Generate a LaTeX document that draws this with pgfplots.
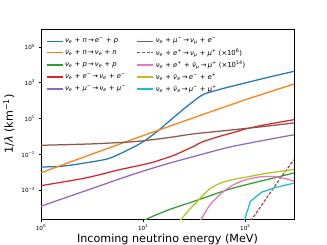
\documentclass[border=0pt]{standalone}
\usepackage{fontspec}
\setmainfont{DejaVu Sans}
\usepackage{pgfplots}
\pgfplotsset{compat=1.18}
\definecolor{c0}{HTML}{1F77B4}
\definecolor{c1}{HTML}{FF7F0E}
\definecolor{c2}{HTML}{2CA02C}
\definecolor{c3}{HTML}{D62728}
\definecolor{c4}{HTML}{9467BD}
\definecolor{c5}{HTML}{8C564B}
\definecolor{c6}{HTML}{E377C2}
\definecolor{c8}{HTML}{BCBD22}
\definecolor{c9}{HTML}{17BECF}
\newcommand{\nuf}[1]{\textit{ν}\textsubscript{\textit{#1}}}
\newcommand{\nub}[1]{\textit{ν̄}\textsubscript{\textit{#1}}}
\newcommand{\up}[1]{\textsuperscript{#1}}
\newcommand{\ra}{\,→\,}
\begin{document}
\begin{tikzpicture}
\useasboundingbox (-41bp,-26bp) rectangle (286bp,219bp);
\begin{axis}[
  at={(0,0)}, anchor=south west,
  scale only axis, width=253bp, height=190bp,
  xmode=log, ymode=log,
  xmin=1, xmax=300, ymin=2.5e-5, ymax=1e6,
  axis line style={black, line width=0.6bp},
  tick style={black, line width=0.6bp},
  tick align=outside, major tick length=2.5bp, minor tick length=1.4bp,
  xtick pos=left, ytick pos=left,
  xtick={1,10,100},
  xticklabels={10\up{0},10\up{1},10\up{2}},
  minor xtick={2,3,4,5,6,7,8,9,20,30,40,50,60,70,80,90,200,300},
  ytick={1e-3,1e-1,1e1,1e3,1e5},
  yticklabels={10\up{−3},10\up{−1},10\up{1},10\up{3},10\up{5}},
  minor ytick={},
  ticklabel style={font=\fontsize{5.7}{6.5}\selectfont},
  xlabel={Incoming neutrino energy (MeV)},
  ylabel={1/\textit{λ} (km\up{−1})},
  label style={font=\fontsize{11.2}{13}\selectfont},
  xlabel style={at={(axis description cs:0.5,-0.1226)}, anchor=base},
  ylabel style={at={(axis description cs:-0.1107,0.5)}, anchor=base},
  legend columns=2,
  legend cell align=left,
  legend image code/.code={\draw[#1] (0bp,0bp) -- (15.7bp,0bp);},
  legend style={at={(axis description cs:0,1)}, anchor=north west,
    xshift=2bp, yshift=-5bp,
    draw=none, fill=none, font=\fontsize{6.9}{7.8}\selectfont,
    row sep=0.3bp,
    /tikz/every even column/.append style={column sep=9bp}},
  every axis plot/.append style={line width=1.25bp, no markers},
]
% nu_e + n -> e- + p
\addplot[c0, smooth, forget plot] coordinates {(1,0.0200)(1.585,0.0219)(2.742,0.0339)(4.457,0.0562)(6.0,0.112)(7.5,0.209)(9.18,0.380)(10.67,0.661)(12.59,1.318)(14.39,2.40)(17.78,6.76)(22.49,20.9)(28.18,60.3)(32.7,115)(36.3,178)(40.9,251)(56.2,427)(86.3,794)(158.5,1862)(300,4365)};
% nu_e + n -> nu_e + n
\addplot[c1, smooth, forget plot] coordinates {(1,0.00955)(3.162,0.105)(10,1.122)(31.62,11.48)(100,112.2)(300,851)};
% nu_e + p -> nu_e + p
\addplot[c2, smooth, forget plot] coordinates {(10,1.78e-5)(11.07,2.63e-5)(17.99,8.32e-5)(35.2,3.02e-4)(66.4,1.05e-3)(100,2.0e-3)(211,5.62e-3)(300,9.33e-3)};
% nu_e + e- -> nu_e + e-
\addplot[c3, smooth, forget plot] coordinates {(1,0.00182)(2.742,0.00490)(5.86,0.0141)(7.5,0.019)(12.36,0.0363)(19.95,0.0891)(26.1,0.178)(31.5,0.288)(37.9,0.501)(55.1,1.0)(68.9,1.413)(104,2.754)(158.5,4.571)(300,8.71)};
% nu_e + mu- -> nu_e + mu-
\addplot[c4, smooth, forget plot] coordinates {(1,1.29e-4)(3.162,1.26e-3)(7.5,6.92e-3)(15.85,0.0263)(36.6,0.0977)(68.9,0.251)(125.9,0.501)(300,1.259)};
% nu_e + mu- -> nu_mu + e-
\addplot[c5, smooth, forget plot] coordinates {(1,0.324)(3.162,0.389)(7.5,0.501)(10.67,0.603)(17.78,0.871)(31.5,1.413)(68.9,2.239)(100,2.818)(158.5,3.715)(300,5.754)};
% nu_e + e+ -> nu_mu + mu+ (x1e6)
\addplot[c5, dash pattern=on 3bp off 1.6bp, forget plot] coordinates {(113.5,2.0e-5)(158.5,3.16e-4)(223.9,5.37e-3)(300,0.0501)};
% nu_e + e+ + nubar_mu -> mu+ (x1e14)
\addplot[c6, smooth, forget plot] coordinates {(36.3,2.0e-5)(44.7,1.41e-4)(55.1,5.01e-4)(66.4,1.20e-3)(79.4,2.24e-3)(100,3.80e-3)(125.9,5.13e-3)(158.5,5.89e-3)(199.5,5.62e-3)(251,4.37e-3)(300,3.16e-3)};
% nu_e + nubar_e -> e- + e+
\addplot[c8, smooth, forget plot] coordinates {(22.9,2.0e-5)(28.18,7.94e-5)(35.2,3.02e-4)(41.7,8.32e-4)(50.1,1.78e-3)(63.1,3.02e-3)(79.4,4.17e-3)(107.9,5.75e-3)(158.5,8.71e-3)(300,0.01445)};
% nu_e + nubar_e -> mu- + mu+
\addplot[c9, forget plot] coordinates {(97.7,2.0e-5)(112.2,2.45e-4)(145.5,7.94e-4)(199.5,1.45e-3)(300,2.51e-3)};

\addlegendimage{c0, line width=1.25bp}
\addlegendentry{\nuf{e} + \textit{n}\ra\textit{e}\up{−} + \textit{p}}
\addlegendimage{c5, line width=1.25bp}
\addlegendentry{\nuf{e} + \textit{μ}\up{−}\ra\nuf{μ} + \textit{e}\up{−}}
\addlegendimage{c1, line width=1.25bp}
\addlegendentry{\nuf{e} + \textit{n}\ra\nuf{e} + \textit{n}}
\addlegendimage{c5, line width=1.25bp, dash pattern=on 3bp off 1.6bp}
\addlegendentry{\nuf{e} + \textit{e}\up{+}\ra\nuf{μ} + \textit{μ}\up{+} (×10\up{6})}
\addlegendimage{c2, line width=1.25bp}
\addlegendentry{\nuf{e} + \textit{p}\ra\nuf{e} + \textit{p}}
\addlegendimage{c6, line width=1.25bp}
\addlegendentry{\nuf{e} + \textit{e}\up{+} + \nub{μ}\ra\textit{μ}\up{+} (×10\up{14})}
\addlegendimage{c3, line width=1.25bp}
\addlegendentry{\nuf{e} + \textit{e}\up{−}\ra\nuf{e} + \textit{e}\up{−}}
\addlegendimage{c8, line width=1.25bp}
\addlegendentry{\nuf{e} + \nub{e}\ra\textit{e}\up{−} + \textit{e}\up{+}}
\addlegendimage{c4, line width=1.25bp}
\addlegendentry{\nuf{e} + \textit{μ}\up{−}\ra\nuf{e} + \textit{μ}\up{−}}
\addlegendimage{c9, line width=1.25bp}
\addlegendentry{\nuf{e} + \nub{e}\ra\textit{μ}\up{−} + \textit{μ}\up{+}}
\end{axis}
\end{tikzpicture}
\end{document}
